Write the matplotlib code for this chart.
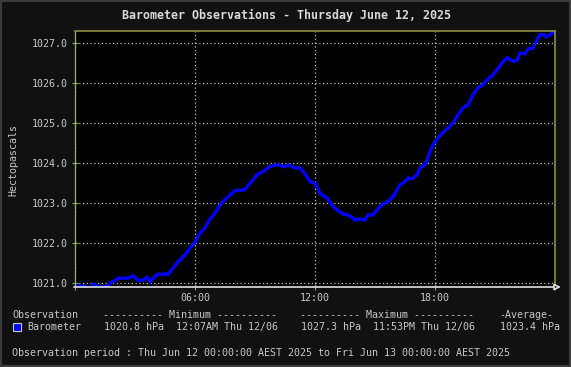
import matplotlib
matplotlib.use("Agg")
import matplotlib.pyplot as plt
from matplotlib.patches import Rectangle

# hours since midnight, pressure in hPa
hours = [0.0, 0.1, 0.5, 0.75, 0.9, 1.15, 1.4, 1.65, 1.75, 1.9, 2.15, 2.65, 2.9, 3.15,
         3.4, 3.6, 3.75, 3.9, 4.15, 4.65, 4.75, 4.9, 5.15, 5.5, 5.75, 6.0, 6.25, 6.5,
         6.75, 7.0, 7.25, 7.5, 7.75, 8.0, 8.5, 8.75, 9.1, 9.4, 9.75, 10.15, 10.5, 10.65,
         11.0, 11.25, 11.5, 11.75, 12.0, 12.25, 12.6, 12.9, 13.1, 13.4, 13.65, 13.85,
         14.0, 14.25, 14.5, 14.65, 14.9, 15.1, 15.35, 15.6, 15.85, 16.1, 16.25, 16.5,
         16.65, 16.85, 17.1, 17.25, 17.5, 17.6, 17.75, 17.9, 18.15, 18.4, 18.65, 18.9,
         19.15, 19.4, 19.65, 19.9, 20.15, 20.4, 20.6, 20.85, 21.1, 21.35, 21.6, 21.9,
         22.1, 22.25, 22.5, 22.65, 22.9, 23.1, 23.25, 23.45, 23.55, 23.75, 23.9, 24.0]
pressure = [1020.97, 1020.92, 1020.92, 1020.84, 1020.97, 1020.92, 1020.9, 1020.92,
            1021.0, 1021.03, 1021.12, 1021.12, 1021.18, 1021.07, 1021.07, 1021.14,
            1021.03, 1021.12, 1021.22, 1021.22, 1021.28, 1021.37, 1021.53, 1021.7,
            1021.87, 1022.02, 1022.24, 1022.38, 1022.6, 1022.74, 1022.95, 1023.08,
            1023.2, 1023.3, 1023.33, 1023.49, 1023.7, 1023.78, 1023.91, 1023.95,
            1023.9, 1023.95, 1023.87, 1023.87, 1023.72, 1023.53, 1023.49, 1023.24,
            1023.12, 1022.91, 1022.83, 1022.72, 1022.7, 1022.64, 1022.57, 1022.6,
            1022.57, 1022.7, 1022.7, 1022.83, 1022.95, 1023.02, 1023.12, 1023.32,
            1023.45, 1023.53, 1023.62, 1023.6, 1023.7, 1023.87, 1023.95, 1024.07,
            1024.28, 1024.45, 1024.62, 1024.76, 1024.87, 1024.99, 1025.2, 1025.37,
            1025.45, 1025.7, 1025.87, 1025.95, 1026.07, 1026.17, 1026.32, 1026.49,
            1026.62, 1026.53, 1026.55, 1026.74, 1026.72, 1026.84, 1026.86, 1027.07,
            1027.2, 1027.2, 1027.14, 1027.2, 1027.26, 1027.22]

yticks = [1021.0, 1022.0, 1023.0, 1024.0, 1025.0, 1026.0, 1027.0]
xticks = [0, 6, 12, 18, 24]
xlabels = ["", "06:00", "12:00", "18:00", ""]

title = "Barometer Observations - Thursday June 12, 2025"
header = ["Observation", "---------- Minimum ----------",
          "---------- Maximum ----------", "-Average-"]
row = ["Barometer", "1020.8 hPa  12:07AM Thu 12/06",
       "1027.3 hPa  11:53PM Thu 12/06", "1023.4 hPa"]
period = "Observation period : Thu Jun 12 00:00:00 AEST 2025 to Fri Jun 13 00:00:00 AEST 2025"

W, H = 571, 367
bg = "#111111"
txt = "#c8c8c8"
mono = "DejaVu Sans Mono"
fs = 7.2

fig = plt.figure(figsize=(W / 100, H / 100), dpi=100, facecolor=bg)
ax = fig.add_axes([75 / W, 1 - 287 / H, 480 / W, 256 / H], facecolor="black")

def fx(px):
    return px / W

def fy(py):
    return 1 - py / H

ax.plot(hours, pressure, color="#0000ff", lw=2.4, solid_joinstyle="miter")
ax.set_xlim(0, 24)
ax.set_ylim(1020.9, 1027.29)

ax.set_yticks(yticks)
ax.set_yticklabels(["%.1f" % v for v in yticks], family=mono, fontsize=fs, color=txt)
ax.set_xticks(xticks)
ax.set_xticklabels(xlabels, family=mono, fontsize=fs, color=txt)
ax.tick_params(axis="both", direction="inout", length=5, width=0.8, color="#8cb064", pad=3)
ax.tick_params(axis="x", pad=2)

ax.grid(True, linestyle=(0, (1, 2)), color="#b4ccb0", lw=0.9)
ax.set_axisbelow(True)

for s in ["top", "right"]:
    ax.spines[s].set_color("#8c8c48")
    ax.spines[s].set_linewidth(1.2)
ax.spines["left"].set_color("#9ab070")
ax.spines["left"].set_linewidth(0.9)
ax.spines["bottom"].set_visible(False)

# bottom axis with open arrow head
ax.annotate("", xy=(1.018, 0), xytext=(-0.008, 0), xycoords="axes fraction",
            arrowprops=dict(arrowstyle="-|>", edgecolor="#e0e0e0", facecolor="black",
                            lw=1.2, mutation_scale=9),
            annotation_clip=False)

fig.text(fx(13), fy(160), "Hectopascals", family=mono, fontsize=fs, color=txt,
         rotation=90, ha="center", va="center")

fig.text(fx(286), fy(15), title, family=mono, fontsize=8.4, fontweight="bold",
         color="#d8d8d8", ha="center", va="center")

xs = [12, 103, 300, 499]
for i in range(4):
    fig.text(fx(xs[i]), fy(315), header[i], family=mono, fontsize=fs, color=txt,
             ha="left", va="center")
fig.text(fx(27), fy(327), row[0], family=mono, fontsize=fs, color=txt, ha="left", va="center")
for i in range(1, 4):
    fig.text(fx(xs[i] + 1), fy(327), row[i], family=mono, fontsize=fs, color=txt,
             ha="left", va="center")
fig.patches.append(Rectangle((fx(13), fy(331)), 8 / W, 8 / H, transform=fig.transFigure,
                             facecolor="#0000ff", edgecolor="#c8c8c8", lw=0.8))
fig.text(fx(12), fy(353), period, family=mono, fontsize=fs, color=txt, ha="left", va="center")

# outer frame
fig.patches.append(Rectangle((0, 0), 1, 1, transform=fig.transFigure, fill=False,
                             edgecolor="#3c3c3c", lw=3))

fig.savefig("out.png", dpi=100, facecolor=bg)
